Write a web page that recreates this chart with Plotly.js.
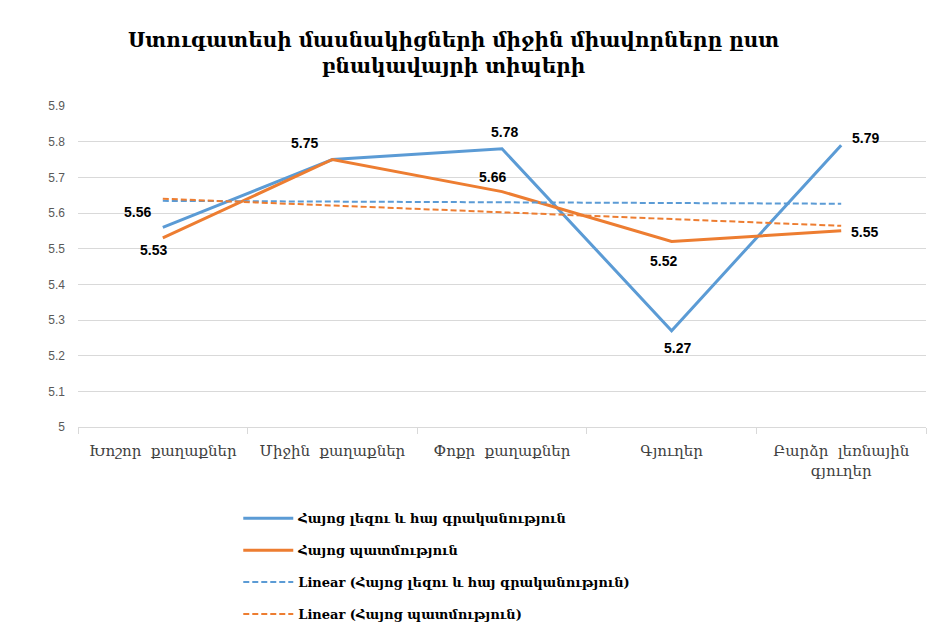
<!DOCTYPE html>
<html>
<head>
<meta charset="utf-8">
<script src="https://cdn.plot.ly/plotly-3.0.1.min.js"></script>
<style>html,body{margin:0;padding:0;background:#fff;}#chart{width:935px;height:626px;}</style>
</head>
<body>
<div id="chart"></div>
<script>
var categories = ["Խոշոր  քաղաքներ", "Միջին  քաղաքներ", "Փոքր  քաղաքներ", "Գյուղեր", "Բարձր  լեռնային<br>գյուղեր"];
var seriesNames = ["Հայոց լեզու և հայ գրականություն", "Հայոց պատմություն"];
var langValues = [5.56, 5.75, 5.78, 5.27, 5.79];
var histValues = [5.53, 5.75, 5.66, 5.52, 5.55];
var yTicks = [5, 5.1, 5.2, 5.3, 5.4, 5.5, 5.6, 5.7, 5.8, 5.9];
var titleText = "Ստուգատեսի մասնակիցների միջին միավորները ըստ<br>բնակավայրի տիպերի";

// Linear trendline (least squares), as the spreadsheet's "Linear" trendline
function linearFit(vals) {
  var n = vals.length, sx = 0, sy = 0, sxx = 0, sxy = 0;
  for (var i = 0; i < n; i++) { var x = i + 1; sx += x; sy += vals[i]; sxx += x * x; sxy += x * vals[i]; }
  var b = (n * sxy - sx * sy) / (n * sxx - sx * sx);
  var a = (sy - b * sx) / n;
  return vals.map(function (_, i) { return a + b * (i + 1); });
}

var blue = "#5b9bd5", orange = "#ed7d31";
var armFont = "DejaVu Serif";
var numFont = "Liberation Sans";

var traces = [
  {
    x: categories, y: langValues, name: seriesNames[0], type: "scatter", mode: "lines",
    line: {color: blue, width: 3}, legendgroup: "a"
  },
  {
    x: categories, y: histValues, name: seriesNames[1], type: "scatter", mode: "lines",
    line: {color: orange, width: 3}, legendgroup: "b"
  },
  {
    x: categories, y: linearFit(langValues), name: "Linear (" + seriesNames[0] + ")", type: "scatter", mode: "lines",
    line: {color: blue, width: 2, dash: "6px,3px"}, legendgroup: "c"
  },
  {
    x: categories, y: linearFit(histValues), name: "Linear (" + seriesNames[1] + ")", type: "scatter", mode: "lines",
    line: {color: orange, width: 2, dash: "6px,3px"}, legendgroup: "d"
  }
];

// data label offsets (pixels) relative to each point
var langShift = [[-25, -15], [-28, -17], [2, -17], [6, 17], [24, -7]];
var histShift = [[-9, 12], null, [-10, -15], [-8, 19], [23, 1]];
var annotations = [];
function addLabels(vals, shifts) {
  vals.forEach(function (v, i) {
    if (!shifts[i]) return;
    annotations.push({
      x: categories[i], y: v, xref: "x", yref: "y", text: v.toFixed(2), showarrow: false,
      xshift: shifts[i][0], yshift: -shifts[i][1],
      font: {family: numFont, size: 14, color: "#000", weight: "bold"}
    });
  });
}
addLabels(langValues, langShift);
addLabels(histValues, histShift);

var layout = {
  width: 935, height: 626,
  margin: {l: 78, r: 9, t: 106, b: 199},
  paper_bgcolor: "#fff", plot_bgcolor: "#fff",
  title: {
    text: titleText, x: 0.485, xanchor: "center", y: 0.925, yanchor: "middle", yref: "container",
    font: {family: armFont, size: 20, color: "#000", weight: "bold"}
  },
  xaxis: {
    type: "category", range: [-0.5, 4.5], autorange: false, automargin: false,
    tickson: "boundaries", ticks: "outside", ticklen: 6, tickcolor: "#d9d9d9",
    ticklabelstandoff: 10,
    showline: true, linecolor: "#d9d9d9", linewidth: 1, showgrid: false,
    tickfont: {family: armFont, size: 15, color: "#404040"}, tickangle: 0,
    fixedrange: true
  },
  yaxis: {
    range: [5, 5.9], autorange: false, automargin: false,
    tickvals: yTicks, ticktext: yTicks.map(function (v) { return String(v); }),
    showgrid: true, gridcolor: "#d9d9d9", gridwidth: 1, zeroline: false, showline: false,
    ticks: "", ticklabelstandoff: 12,
    tickfont: {family: numFont, size: 12, color: "#595959"}, fixedrange: true
  },
  annotations: annotations,
  showlegend: true,
  legend: {
    orientation: "v", xref: "paper", yref: "container",
    x: 0.189, xanchor: "left", y: 0.196, yanchor: "top",
    traceorder: "grouped", tracegroupgap: 12, itemwidth: 50,
    font: {family: armFont, size: 13, color: "#000", weight: "bold"},
    bgcolor: "rgba(0,0,0,0)"
  }
};

Plotly.newPlot("chart", traces, layout, {displayModeBar: false, staticPlot: true});
</script>
</body>
</html>
